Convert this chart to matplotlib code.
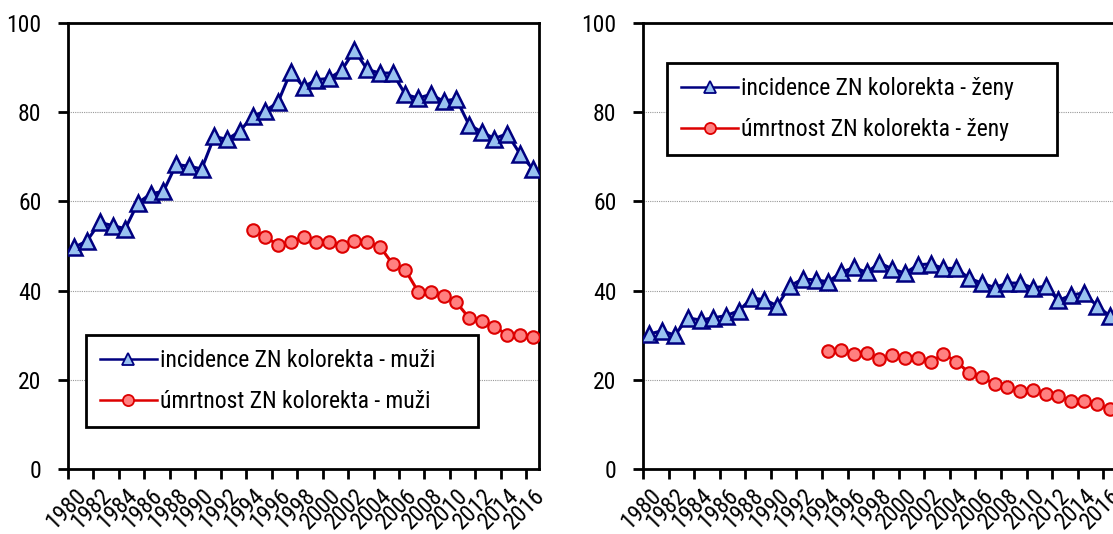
import matplotlib.pyplot as plt
from matplotlib import font_manager
from matplotlib.lines import Line2D

years = list(range(1980, 2017))
mort_years = list(range(1994, 2017))

inc_men = [49.7, 51.2, 55.3, 54.6, 53.9, 59.7, 61.7, 62.3, 68.3, 67.9,
           67.3, 74.6, 73.9, 75.8, 79.1, 80.3, 82.3, 89.1, 85.7, 87.3,
           87.6, 89.4, 93.9, 89.6, 88.8, 88.8, 84.0, 83.2, 84.0, 82.5,
           83.0, 77.2, 75.6, 74.1, 75.2, 70.7, 67.3]
mort_men = [53.6, 52.0, 50.3, 50.9, 52.0, 50.9, 51.0, 50.1, 51.1, 50.9,
            49.9, 46.0, 44.6, 39.8, 39.8, 38.9, 37.4, 33.9, 33.3, 31.9,
            30.1, 30.1, 29.7]

inc_women = [30.3, 31.0, 30.0, 33.9, 33.4, 33.9, 34.4, 35.5, 38.3, 38.0,
             36.6, 41.1, 42.6, 42.4, 42.0, 44.1, 45.2, 44.1, 46.2, 44.9,
             43.9, 45.8, 46.0, 45.0, 45.0, 42.8, 41.7, 40.7, 41.7, 41.7,
             40.6, 41.0, 37.8, 39.0, 39.5, 36.6, 34.4]
mort_women = [26.5, 26.7, 25.8, 26.0, 24.6, 25.5, 24.8, 25.0, 24.0, 25.8,
              24.1, 21.6, 20.7, 19.0, 18.4, 17.4, 17.8, 16.8, 16.4, 15.3,
              15.3, 14.5, 13.5]

labels_men = ['incidence ZN kolorekta - muži', 'úmrtnost ZN kolorekta - muži']
labels_women = ['incidence ZN kolorekta - ženy', 'úmrtnost ZN kolorekta - ženy']

# Arial Narrow look-alike, whatever condensed face is around
installed = {f.name for f in font_manager.fontManager.ttflist}
family = 'Liberation Sans'
for c in ['Roboto Condensed', 'Archivo Narrow', 'PT Sans Narrow']:
    if c in installed:
        family = c
        break
plt.rcParams['font.family'] = [family, 'DejaVu Sans']
fs = 17 if family != 'Liberation Sans' else 14

navy = '#000080'
light_blue = '#99C2F0'
red = '#DD0000'
salmon = '#FF8080'

fig = plt.figure(figsize=(11.13, 5.34), dpi=100)
ax1 = fig.add_axes([0.0611, 0.1217, 0.4232, 0.835])
ax2 = fig.add_axes([0.5777, 0.1217, 0.425, 0.835])


def draw(ax, inc, mort, labels, leg_box):
    xi = [y - years[0] for y in years]
    xm = [y - years[0] for y in mort_years]
    ax.plot(xi, inc, color=navy, lw=2.2, marker='^', ms=11,
            mfc=light_blue, mec=navy, mew=1.8, zorder=3)
    ax.plot(xm, mort, color=red, lw=2.2, marker='o', ms=9,
            mfc=salmon, mec=red, mew=1.5, zorder=3)
    ax.set_xlim(-0.5, len(years) - 0.5)
    ax.set_ylim(0, 100)
    ax.set_yticks([0, 20, 40, 60, 80, 100])
    ax.tick_params(axis='y', labelsize=fs, length=7, width=2, pad=12)
    # ticks between categories, labels on every other year
    ax.set_xticks([i - 0.5 for i in range(0, len(years), 2)])
    ax.set_xticks(list(range(0, len(years), 2)), minor=True)
    ax.set_xticklabels([])
    ax.set_xticklabels([str(y) for y in years[::2]], minor=True,
                       rotation=45, ha='right', va='top',
                       rotation_mode='anchor')
    ax.tick_params(axis='x', which='major', length=7, width=2)
    ax.tick_params(axis='x', which='minor', length=0, labelsize=fs, pad=11)
    for y in [20, 40, 60, 80]:
        ax.axhline(y, color='#999999', lw=0.8, ls=(0, (1, 1)), zorder=1)
    for s in ax.spines.values():
        s.set_linewidth(2)

    handles = [
        Line2D([], [], color=navy, lw=1.8, marker='^', ms=8,
               mfc=light_blue, mec=navy, mew=1.3),
        Line2D([], [], color=red, lw=1.8, marker='o', ms=8,
               mfc=salmon, mec=red, mew=1.3),
    ]
    leg = ax.legend(handles, labels, loc='lower left', mode='expand',
                    bbox_to_anchor=leg_box, fontsize=fs, frameon=True,
                    fancybox=False, edgecolor='black', framealpha=1,
                    handlelength=2.4, handletextpad=0.15,
                    labelspacing=0.75, borderpad=0.6, borderaxespad=0)
    leg.get_frame().set_linewidth(2)


draw(ax1, inc_men, mort_men, labels_men, (0.038, 0.094, 0.832, 0.2))
draw(ax2, inc_women, mort_women, labels_women, (0.051, 0.704, 0.824, 0.2))

fig.savefig('out.png', dpi=100)
